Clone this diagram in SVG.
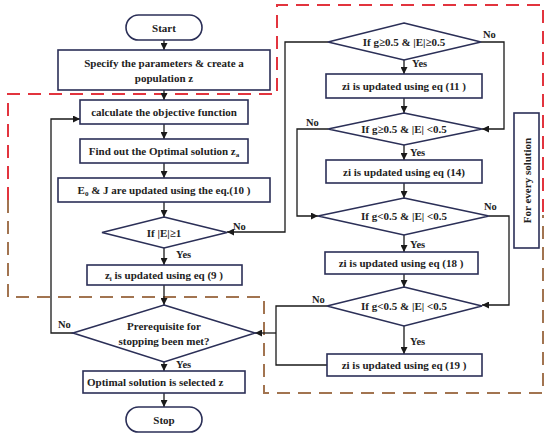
<svg xmlns="http://www.w3.org/2000/svg" width="550" height="440" viewBox="0 0 550 440">
<defs>
<marker id="arr" viewBox="0 0 10 10" refX="10" refY="5" markerWidth="7" markerHeight="7" orient="auto" markerUnits="userSpaceOnUse">
<path d="M0,0 L10,5 L0,10 z" fill="#1a1a1a"/>
</marker>
<style>
.n{fill:#fff;stroke:#2b2f57;stroke-width:1.6}
.t{font-family:"Liberation Serif","Times New Roman",serif;font-weight:bold;font-size:11px;fill:#222;text-anchor:middle}
.l{font-family:"Liberation Serif","Times New Roman",serif;font-weight:bold;font-size:10.5px;fill:#222}
.c{fill:none;stroke:#1a1a1a;stroke-width:1.3}
.a{marker-end:url(#arr)}
.dr{fill:none;stroke:#e2343e;stroke-width:2;stroke-dasharray:13 8}
.db{fill:none;stroke:#a27450;stroke-width:2;stroke-dasharray:13 8}
</style>
</defs>
<rect width="550" height="440" fill="#fff"/>
<g id="regions">
<path class="dr" d="M8,200 V94 H277 V5 H543 V215"/>
<path class="db" d="M8,200 V297 H264 V393 H543 V215"/>
</g>
<g id="connectors">
<path class="c a" d="M164,40 V50"/>
<path class="c a" d="M164,90 V100"/>
<path class="c a" d="M164,124 V139"/>
<path class="c a" d="M164,163 V178"/>
<path class="c a" d="M164,202 V217"/>
<path class="c a" d="M164,248 V265"/>
<path class="c a" d="M164,285 V305"/>
<path class="c a" d="M164,362 V371"/>
<path class="c a" d="M164,393 V407"/>
<path class="c a" d="M73,333 H51 V119 H80"/>
<path class="c a" d="M328,42 H285 V232 H227"/>
<path class="c a" d="M404,60 V74"/>
<path class="c a" d="M481,42 H504 V129 H482"/>
<path class="c a" d="M404,98 V113"/>
<path class="c a" d="M404,145 V160"/>
<path class="c a" d="M328,129 H297 V216 H318"/>
<path class="c a" d="M404,183 V198"/>
<path class="c a" d="M404,235 V252"/>
<path class="c a" d="M489,216 H509 V305 H482"/>
<path class="c a" d="M404,274 V287"/>
<path class="c a" d="M404,326 V354"/>
<path class="c" d="M327,306 H276 V365 H327"/>
<path class="c a" d="M276,333 H255"/>
</g>
<g id="labels">
<text class="l" x="233" y="230">No</text>
<text class="l" x="176" y="258">Yes</text>
<text class="l" x="58" y="328">No</text>
<text class="l" x="176" y="368">Yes</text>
<text class="l" x="483" y="38">No</text>
<text class="l" x="412" y="67">Yes</text>
<text class="l" x="306" y="126">No</text>
<text class="l" x="410" y="156">Yes</text>
<text class="l" x="484" y="210">No</text>
<text class="l" x="410" y="248">Yes</text>
<text class="l" x="312" y="303">No</text>
<text class="l" x="410" y="345">Yes</text>
</g>
<g id="start"><rect class="n" x="126" y="15" width="76" height="25" rx="12.5"/><text class="t" x="164" y="31.5">Start</text></g>
<g id="specify"><rect class="n" x="58" y="50" width="212" height="40"/><text class="t" x="164" y="67">Specify the parameters &amp; create a</text><text class="t" x="164" y="82">population z</text></g>
<g id="calc"><rect class="n" x="80" y="100" width="168" height="24"/><text class="t" x="164" y="116">calculate the objective function</text></g>
<g id="find"><rect class="n" x="80" y="139" width="168" height="24"/><text class="t" x="164" y="155">Find out the Optimal solution z<tspan font-size="7" dy="2">a</tspan></text></g>
<g id="update-e"><rect class="n" x="58" y="178" width="212" height="24"/><text class="t" x="164" y="194">E<tspan font-size="7" dy="2">0</tspan><tspan dy="-2"> &amp; J are updated using the eq.(10 )</tspan></text></g>
<g id="if-e"><polygon class="n" points="164,217 227,232.5 164,248 102,232.5"/><text class="t" x="164" y="236.5">If  |E|≥1</text></g>
<g id="update-9"><rect class="n" x="87" y="265" width="155" height="20"/><text class="t" x="164" y="279">z<tspan font-size="7" dy="2">i</tspan><tspan dy="-2"> is updated using eq (9 )</tspan></text></g>
<g id="prereq"><polygon class="n" points="164,305 255,333 164,362 73,333"/><text class="t" x="164" y="330">Prerequisite for</text><text class="t" x="164" y="345">stopping been met?</text></g>
<g id="optimal"><rect class="n" x="83" y="371" width="162" height="22"/><text class="t" x="87" y="386" text-anchor="start" style="text-anchor:start">Optimal solution is selected z</text></g>
<g id="stop"><rect class="n" x="126" y="407" width="76" height="25" rx="12.5"/><text class="t" x="164" y="423.5">Stop</text></g>
<g id="if1"><polygon class="n" points="404,23 481,42 404,60 328,42"/><text class="t" x="404" y="46">If g≥0.5 &amp; |E|≥0.5</text></g>
<g id="update-11"><rect class="n" x="326" y="74" width="156" height="24"/><text class="t" x="404" y="90">zi is updated using eq (11 )</text></g>
<g id="if2"><polygon class="n" points="404,113 482,129 404,145 328,129"/><text class="t" x="404" y="133">If g≥0.5 &amp; |E| &lt;0.5</text></g>
<g id="update-14"><rect class="n" x="326" y="160" width="156" height="23"/><text class="t" x="404" y="175.5">zi is updated using eq (14)</text></g>
<g id="if3"><polygon class="n" points="404,198 489,216 404,235 318,216"/><text class="t" x="404" y="220">If g&lt;0.5 &amp; |E| &lt;0.5</text></g>
<g id="update-18"><rect class="n" x="325" y="252" width="153" height="22"/><text class="t" x="401" y="267">zi is updated using eq (18 )</text></g>
<g id="if4"><polygon class="n" points="404,287 482,306 404,326 327,306"/><text class="t" x="404" y="310">If g&lt;0.5 &amp; |E| &lt;0.5</text></g>
<g id="update-19"><rect class="n" x="327" y="354" width="155" height="22"/><text class="t" x="404" y="369">zi is updated using eq (19 )</text></g>
<g id="every"><rect class="n" x="514" y="113" width="25" height="135"/><text class="t" transform="translate(530.5,180.5) rotate(-90)" x="0" y="0">For every solution</text></g>
</svg>
